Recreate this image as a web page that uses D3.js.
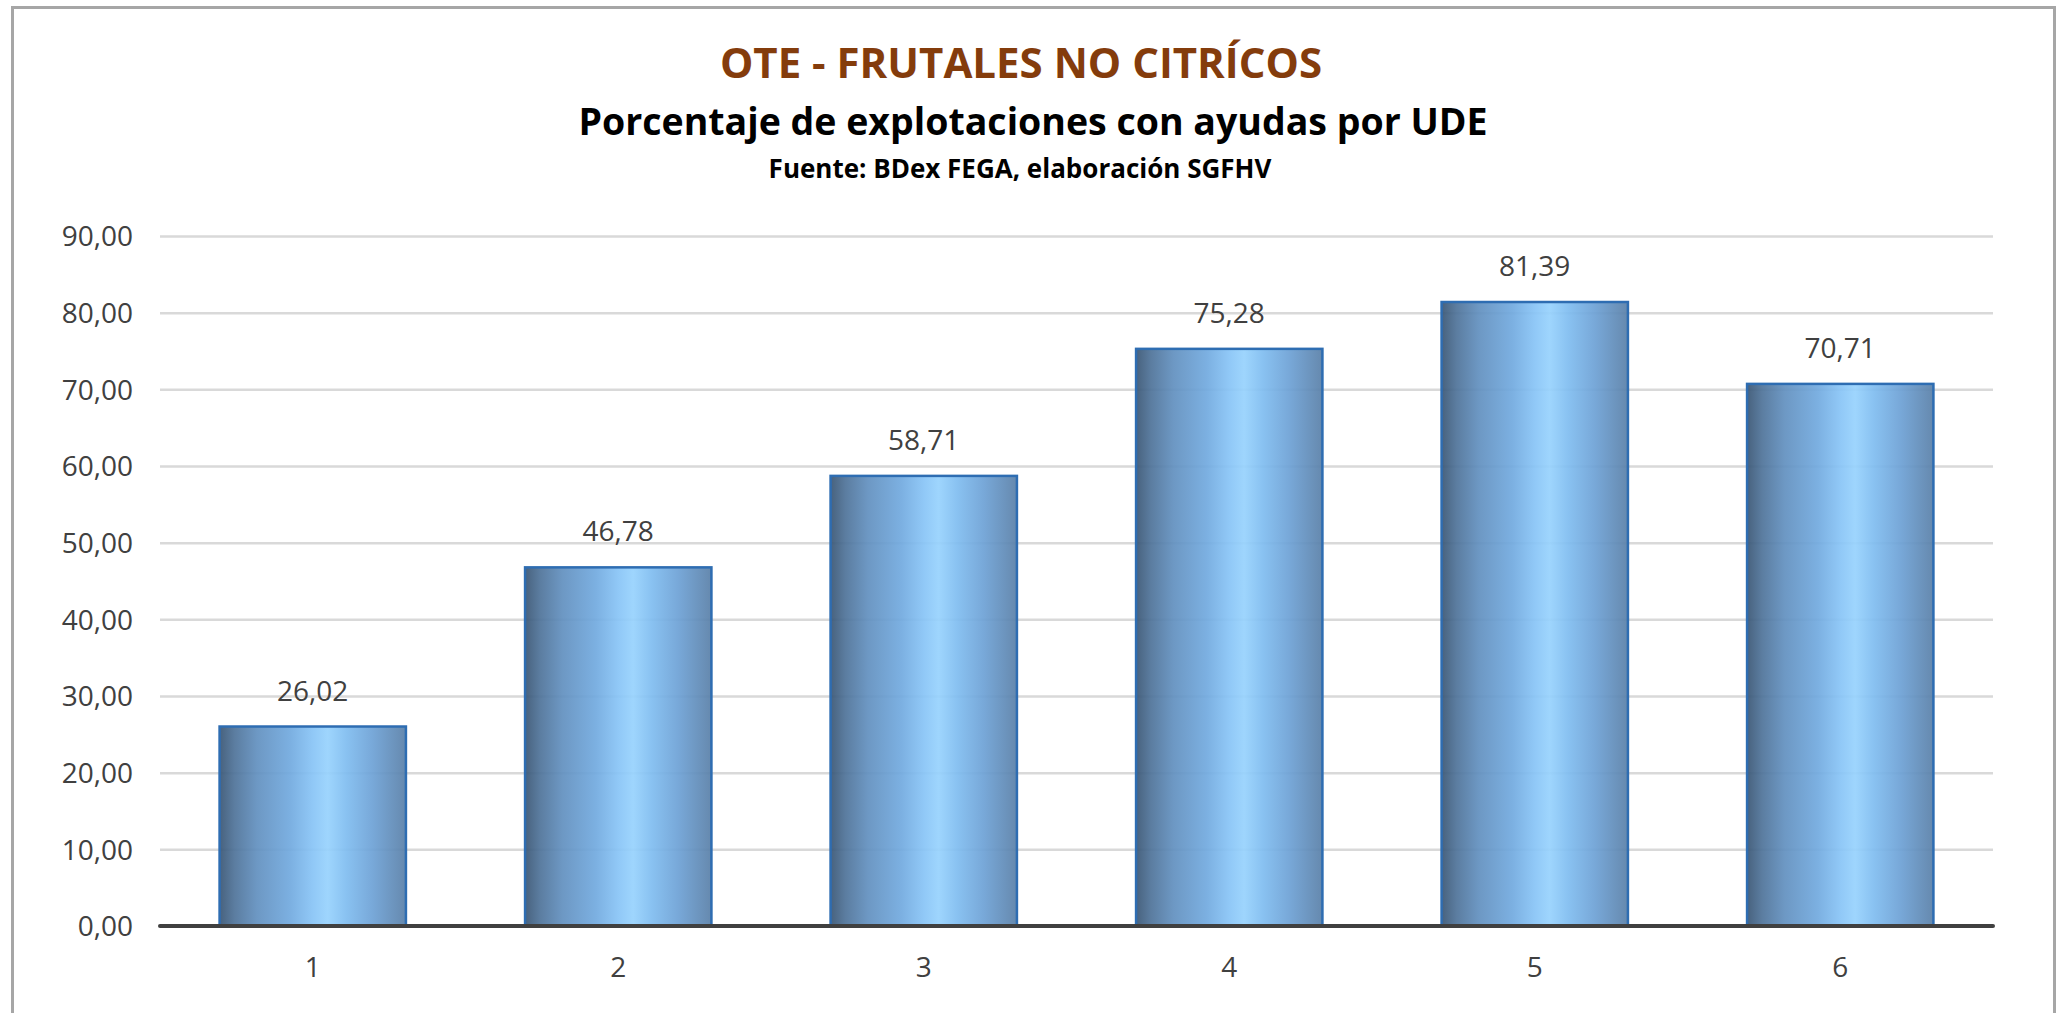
<!DOCTYPE html>
<meta charset="utf-8">
<head>
  <title>OTE - Frutales no cítricos</title>
</head>
<body>
<style>
  html, body {
    margin: 0;
    padding: 0;
    background: #fff;
  }
  svg text {
    font-family: "Open Sans", "Noto Sans", sans-serif;
  }
  .title { fill: #843c0c; font-weight: bold; font-size: 42px; }
  .subtitle { fill: #000; font-weight: bold; font-size: 37.5px; }
  .source { fill: #000; font-weight: bold; font-size: 26px; }
  .grid line { stroke: #d9d9d9; stroke-width: 2.5px; }
  .grid .domain { display: none; }
  .grid text, .xaxis text, .value { fill: #404040; font-size: 28px; }
  .xaxis .domain, .xaxis line { display: none; }
  .baseline { stroke: #404040; stroke-width: 4px; stroke-linecap: round; }
  .bar { stroke: #2e6db2; stroke-width: 2.5px; }
</style>
<div class="chart"></div>
<script src="https://cdn.jsdelivr.net/npm/d3@7"></script>
<script>

(function() {

var categories = ["1", "2", "3", "4", "5", "6"];
var values = [26.02, 46.78, 58.71, 75.28, 81.39, 70.71];
var yTicks = [0, 10, 20, 30, 40, 50, 60, 70, 80, 90];

var titleText = "OTE - FRUTALES NO CITRÍCOS",
    subtitleText = "Porcentaje de explotaciones con ayudas por UDE",
    sourceText = "Fuente: BDex FEGA, elaboración SGFHV";

var width = 2065,
    height = 1013,
    margin = {top: 236, right: 72, bottom: 87, left: 160};

var es = d3.formatLocale({decimal: ",", thousands: ".", grouping: [3], currency: ["", " €"]}),
    fmt = es.format(".2f");

var svg = d3.select(".chart").append("svg")
    .attr("width", width)
    .attr("height", height);

// outer frame
svg.append("rect")
    .attr("x", 12.5)
    .attr("y", 7.5)
    .attr("width", 2042)
    .attr("height", 1020)
    .attr("fill", "none")
    .attr("stroke", "#a6a6a6")
    .attr("stroke-width", 3);

var defs = svg.append("defs");
var grad = defs.append("linearGradient")
    .attr("id", "barGrad")
    .attr("x1", "0%").attr("x2", "100%")
    .attr("y1", "0%").attr("y2", "0%");

[[0, "#3a5674"], [0.08, "#4f7399"], [0.2, "#6290bf"], [0.38, "#72aadf"],
 [0.5, "#88c4f6"], [0.58, "#97d2fd"], [0.68, "#80bdf0"], [0.82, "#6ea2d6"],
 [1, "#5a80a8"]].forEach(function(s) {
  grad.append("stop").attr("offset", s[0]).attr("stop-color", s[1]);
});

// titles
svg.append("text").attr("class", "title")
    .attr("x", 1021).attr("y", 78)
    .attr("text-anchor", "middle")
    .text(titleText);

svg.append("text").attr("class", "subtitle")
    .attr("x", 1033).attr("y", 135)
    .attr("text-anchor", "middle")
    .text(subtitleText);

svg.append("text").attr("class", "source")
    .attr("x", 1020).attr("y", 178)
    .attr("text-anchor", "middle")
    .text(sourceText);

var plotW = width - margin.left - margin.right,
    plotH = height - margin.top - margin.bottom;

var g = svg.append("g")
    .attr("transform", "translate(" + margin.left + "," + margin.top + ")");

var x = d3.scaleBand()
    .domain(categories)
    .range([0, plotW])
    .paddingInner(0.39)
    .paddingOuter(0.195);

var y = d3.scaleLinear()
    .domain([0, 90])
    .range([plotH, 0]);

g.append("g")
    .attr("class", "grid")
    .call(d3.axisLeft(y)
      .tickValues(yTicks)
      .tickSize(-plotW)
      .tickPadding(27)
      .tickFormat(fmt))
  .selectAll("text")
    .attr("dy", "0.35em");

var data = categories.map(function(c, i) { return {cat: c, val: values[i]}; });

g.selectAll(".bar")
    .data(data)
  .enter().append("rect")
    .attr("class", "bar")
    .attr("x", function(d) { return x(d.cat); })
    .attr("y", function(d) { return y(d.val); })
    .attr("width", x.bandwidth())
    .attr("height", function(d) { return plotH - y(d.val); })
    .attr("fill", "url(#barGrad)")
    .attr("fill-opacity", 0.93);

g.selectAll(".value")
    .data(data)
  .enter().append("text")
    .attr("class", "value")
    .attr("x", function(d) { return x(d.cat) + x.bandwidth() / 2; })
    .attr("y", function(d) { return y(d.val) - 26; })
    .attr("text-anchor", "middle")
    .text(function(d) { return fmt(d.val); });

g.append("line")
    .attr("class", "baseline")
    .attr("x1", 0).attr("x2", plotW)
    .attr("y1", plotH).attr("y2", plotH);

g.append("g")
    .attr("class", "xaxis")
    .attr("transform", "translate(0," + plotH + ")")
    .call(d3.axisBottom(x).tickSize(0).tickPadding(31))
  .selectAll("text")
    .attr("dy", "0.71em");

})();

</script>
</body>
